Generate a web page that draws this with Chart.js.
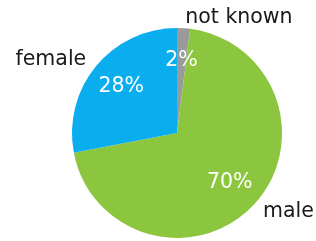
<!DOCTYPE html>
<html><head><meta charset="utf-8">
<script src="https://cdn.jsdelivr.net/npm/chart.js@4/dist/chart.umd.min.js"></script>
<style>html,body{margin:0;padding:0;background:#fff;}#wrap{width:316px;height:241px;}</style>
</head><body><div id="wrap"><canvas id="c" width="316" height="241"></canvas></div>
<script>
const labels = ["not known", "male", "female"];
const values = [2, 70, 28];
const colors = ["#9a9a9a", "#8cc63e", "#0aaeef"];

const labelPlugin = {
  id: 'pieLabels',
  afterDatasetsDraw(chart) {
    const ctx = chart.ctx;
    const meta = chart.getDatasetMeta(0);
    const total = values.reduce((a, b) => a + b, 0);
    ctx.save();
    ctx.font = '20.5px "DejaVu Sans"';
    ctx.textBaseline = 'middle';
    meta.data.forEach((arc, i) => {
      const p = arc.getProps(['x', 'y', 'startAngle', 'endAngle', 'outerRadius'], true);
      const mid = (p.startAngle + p.endAngle) / 2;
      const cx = Math.cos(mid), cy = Math.sin(mid);
      const pct = Math.round(values[i] / total * 100) + '%';
      ctx.fillStyle = '#ffffff';
      ctx.textAlign = 'center';
      ctx.fillText(pct, p.x + cx * p.outerRadius * 0.69, p.y + cy * p.outerRadius * 0.69);
      ctx.fillStyle = '#1a1a1a';
      ctx.textAlign = cx >= 0 ? 'left' : 'right';
      ctx.fillText(labels[i], p.x + cx * p.outerRadius * 1.11 + (cx >= 0 ? 1 : -1), p.y + cy * p.outerRadius * 1.1);
    });
    ctx.restore();
  }
};

new Chart(document.getElementById('c'), {
  type: 'pie',
  data: { labels: labels, datasets: [{ data: values, backgroundColor: colors, borderWidth: 0 }] },
  options: {
    responsive: false,
    animation: false,
    layout: { padding: { left: 72, right: 34, top: 28, bottom: 3 } },
    plugins: { legend: { display: false }, tooltip: { enabled: false } }
  },
  plugins: [labelPlugin]
});
</script></body></html>
